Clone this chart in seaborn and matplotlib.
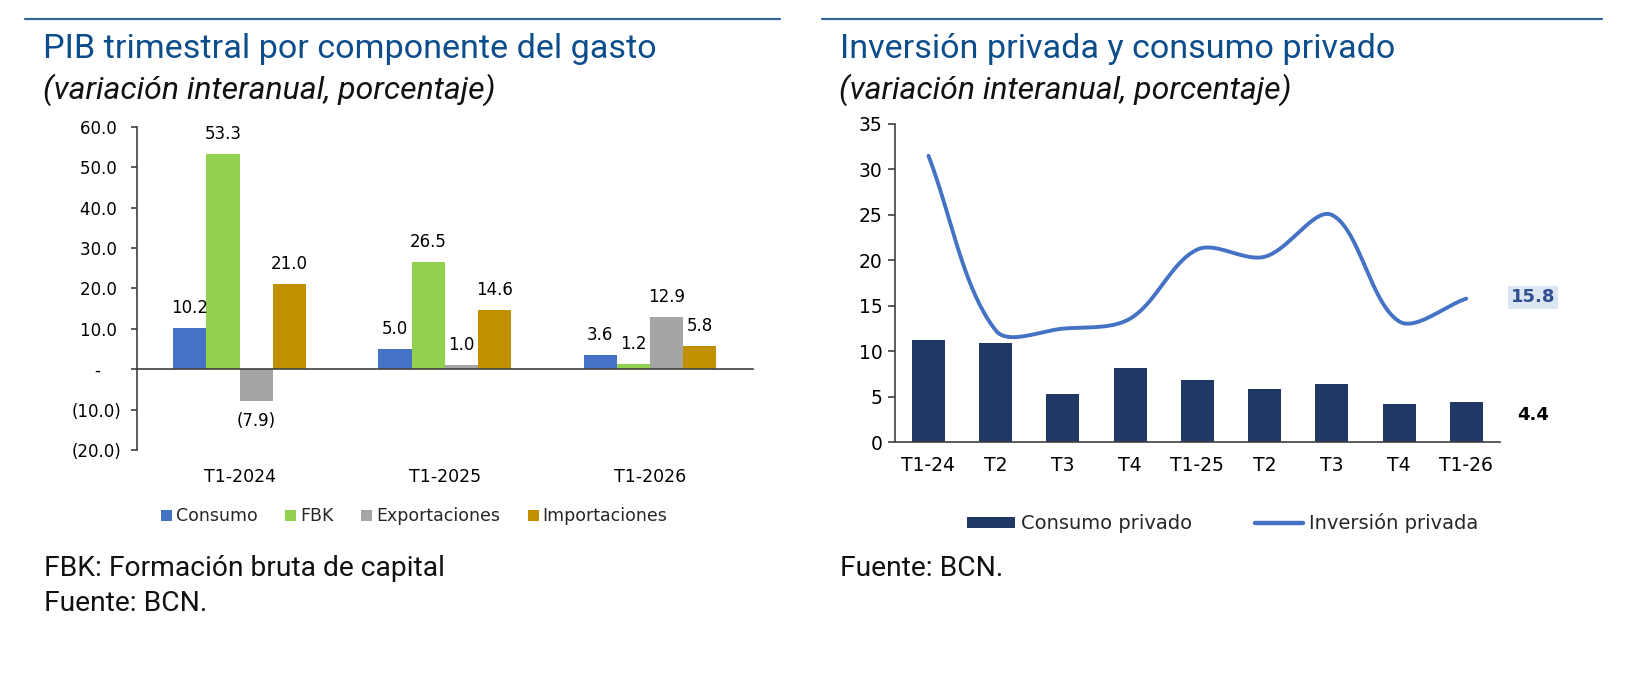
import numpy as np
import pandas as pd
import matplotlib
matplotlib.use("Agg")
import matplotlib.pyplot as plt
from matplotlib.lines import Line2D
from matplotlib.patches import Patch
import seaborn as sns

# --- datos: PIB por componente del gasto ---
trimestres_gasto = ["T1-2024", "T1-2025", "T1-2026"]
componentes = ["Consumo", "FBK", "Exportaciones", "Importaciones"]
consumo = [10.2, 5.0, 3.6]
fbk = [53.3, 26.5, 1.2]
exportaciones = [-7.9, 1.0, 12.9]
importaciones = [21.0, 14.6, 5.8]
colores_comp = ["#4472c4", "#92d050", "#a5a5a5", "#bf9000"]

# --- datos: inversion y consumo privado ---
trimestres = ["T1-24", "T2", "T3", "T4", "T1-25", "T2", "T3", "T4", "T1-26"]
consumo_privado = [11.2, 10.9, 5.3, 8.2, 6.8, 5.9, 6.4, 4.2, 4.4]
inversion_privada = [31.5, 12.3, 12.5, 13.6, 21.2, 20.4, 25.0, 13.3, 15.8]

AZUL_TITULO = "#0d4d8c"
AZUL_REGLA = "#35689a"
TITLE_FONT = "Roboto"


def fmt_num(v):
    if abs(v) < 1e-9:
        return "-    "
    if v < 0:
        return f"({-v:.1f})"
    return f"{v:.1f} "


def suavizar(xs, ys, yscale, n=40):
    # curva suavizada tipo Excel (bezier con tangentes ponderadas)
    p = np.column_stack([xs, np.asarray(ys) * yscale])
    ext = np.vstack([p[0], p, p[-1]])
    segs = []
    for i in range(len(p) - 1):
        p0, p1, p2, p3 = ext[i], ext[i + 1], ext[i + 2], ext[i + 3]
        d01 = np.linalg.norm(p1 - p0)
        d12 = np.linalg.norm(p2 - p1)
        d23 = np.linalg.norm(p3 - p2)
        t1 = p2 - p0
        t2 = p3 - p1
        w1 = d12 / (d01 + d12) if d01 + d12 > 0 else 0.5
        w2 = d12 / (d12 + d23) if d12 + d23 > 0 else 0.5
        c1 = p1 + t1 * w1 / 3
        c2 = p2 - t2 * w2 / 3
        t = np.linspace(0, 1, n)[:, None]
        seg = (1 - t) ** 3 * p1 + 3 * (1 - t) ** 2 * t * c1 + 3 * (1 - t) * t ** 2 * c2 + t ** 3 * p2
        segs.append(seg if i == 0 else seg[1:])
    out = np.vstack(segs)
    return out[:, 0], out[:, 1] / yscale


sns.set_theme(style="white")
plt.rcParams["font.family"] = ["DejaVu Sans"]
plt.rcParams["axes.edgecolor"] = "#404040"
plt.rcParams["xtick.color"] = "#404040"
plt.rcParams["ytick.color"] = "#404040"
plt.rcParams["xtick.labelcolor"] = "black"
plt.rcParams["ytick.labelcolor"] = "black"

fig = plt.figure(figsize=(16.3, 6.76), dpi=100)

# ================= grafico izquierdo =================
ax1 = fig.add_axes([0.0840, 0.3343, 0.3777, 0.4783])
df_gasto = pd.DataFrame({
    "trimestre": trimestres_gasto * 4,
    "componente": np.repeat(componentes, 3),
    "valor": consumo + fbk + exportaciones + importaciones,
})
sns.barplot(data=df_gasto, x="trimestre", y="valor", hue="componente",
            hue_order=componentes, order=trimestres_gasto, palette=colores_comp,
            width=0.647, gap=0, saturation=1, errorbar=None, linewidth=0,
            legend=False, ax=ax1)

series = [consumo, fbk, exportaciones, importaciones]
for cont, vals in zip(ax1.containers, series):
    ax1.bar_label(cont, labels=[fmt_num(v).strip() for v in vals], padding=8,
                  fontsize=12, color="black")

ax1.set_ylim(-20, 60)
ax1.set_xlim(-0.5, 2.5)
ax1.set_yticks(np.arange(-20, 61, 10))
ax1.set_yticklabels([fmt_num(v) for v in np.arange(-20, 61, 10)], fontsize=12)
ax1.spines["top"].set_visible(False)
ax1.spines["right"].set_visible(False)
ax1.spines["bottom"].set_position(("data", 0))
ax1.spines["left"].set_linewidth(1.2)
ax1.spines["bottom"].set_linewidth(1.2)
ax1.set_xticks(range(3))
ax1.set_xticklabels(trimestres_gasto, fontsize=12.5)
ax1.set_xticks(np.arange(-0.5, 3, 1), minor=True)
ax1.tick_params(axis="x", which="major", length=0, pad=71)
ax1.tick_params(axis="x", which="minor", length=5, width=1.2, direction="out")
ax1.tick_params(axis="y", length=4, width=1.2, direction="out", left=True, pad=7)
ax1.set_xlabel("")
ax1.set_ylabel("")

handles1 = [Patch(facecolor=c, edgecolor="none") for c in colores_comp]
fig.legend(handles1, componentes, loc="center", bbox_to_anchor=(0.254, 0.236),
           ncol=4, frameon=False, fontsize=12.5, handlelength=0.65, handleheight=0.65,
           handletextpad=0.2, columnspacing=1.6)

# ================= grafico derecho =================
ax2 = fig.add_axes([0.5490, 0.3457, 0.3712, 0.4709])
pos = np.arange(len(trimestres))
sns.barplot(x=pos, y=consumo_privado, color="#1f3864", saturation=1,
            width=0.49, errorbar=None, linewidth=0, ax=ax2)
yscale = 9.1 / 67.2
sx, sy = suavizar(pos, inversion_privada, yscale)
ax2.plot(sx, sy, color="#4472c4", lw=2.8, solid_capstyle="round")

ax2.set_ylim(0, 35)
ax2.set_xlim(-0.5, len(trimestres) - 0.5)
ax2.set_yticks(np.arange(0, 36, 5))
ax2.tick_params(axis="y", labelsize=13.5, length=5, width=1.2, direction="out", left=True, pad=4)
ax2.set_xticks(pos)
ax2.set_xticklabels(trimestres, fontsize=13.5)
ax2.set_xticks(np.arange(-0.5, len(trimestres), 1), minor=True)
ax2.tick_params(axis="x", which="major", length=0, pad=10)
ax2.tick_params(axis="x", which="minor", length=5, width=1.2, direction="out")
ax2.spines["top"].set_visible(False)
ax2.spines["right"].set_visible(False)
ax2.spines["left"].set_linewidth(1.2)
ax2.spines["bottom"].set_linewidth(1.2)
ax2.set_xlabel("")
ax2.set_ylabel("")

ult = len(trimestres) - 1
ax2.annotate(f"{inversion_privada[-1]:.1f}", xy=(ult, inversion_privada[-1]),
             xytext=(48, 1), textcoords="offset points", ha="center", va="center",
             fontsize=13, fontweight="bold", color="#2f4f8f",
             bbox=dict(boxstyle="square,pad=0.15", facecolor="#dce6f2", edgecolor="none"),
             annotation_clip=False)
ax2.annotate(f"{consumo_privado[-1]:.1f}", xy=(ult, consumo_privado[-1]),
             xytext=(48, -9), textcoords="offset points", ha="center", va="center",
             fontsize=13, fontweight="bold", color="black", annotation_clip=False)

handles2 = [Patch(facecolor="#1f3864", edgecolor="none"),
            Line2D([], [], color="#4472c4", lw=3.2)]
fig.legend(handles2, ["Consumo privado", "Inversión privada"], loc="center",
           bbox_to_anchor=(0.750, 0.226), ncol=2, frameon=False, fontsize=14,
           handlelength=2.5, handleheight=0.5, handletextpad=0.3, columnspacing=3.2)

# ================= titulos, reglas y notas =================
fig.add_artist(Line2D([24.5 / 1630, 780 / 1630], [1 - 19.3 / 676] * 2,
                      color=AZUL_REGLA, lw=1.6, transform=fig.transFigure))
fig.add_artist(Line2D([822 / 1630, 1602 / 1630], [1 - 19.3 / 676] * 2,
                      color=AZUL_REGLA, lw=1.6, transform=fig.transFigure))

fig.text(43 / 1630, 1 - 58 / 676, "PIB trimestral por componente del gasto",
         family=TITLE_FONT, fontsize=24.6, color=AZUL_TITULO, va="baseline")
fig.text(840 / 1630, 1 - 58 / 676, "Inversión privada y consumo privado",
         family=TITLE_FONT, fontsize=24.6, color=AZUL_TITULO, va="baseline")
fig.text(43 / 1630, 1 - 99 / 676, "(variación interanual, porcentaje)",
         family=TITLE_FONT, fontsize=23, style="italic", color="#111111", va="baseline")
fig.text(839 / 1630, 1 - 99 / 676, "(variación interanual, porcentaje)",
         family=TITLE_FONT, fontsize=23, style="italic", color="#111111", va="baseline")

fig.text(44.5 / 1630, 1 - 576 / 676, "FBK: Formación bruta de capital",
         family=TITLE_FONT, fontsize=20.3, color="#111111", va="baseline")
fig.text(44.5 / 1630, 1 - 611 / 676, "Fuente: BCN.",
         family=TITLE_FONT, fontsize=20.3, color="#111111", va="baseline")
fig.text(840 / 1630, 1 - 576 / 676, "Fuente: BCN.",
         family=TITLE_FONT, fontsize=20.3, color="#111111", va="baseline")

fig.savefig("out.png", dpi=100, facecolor="white")
plt.close(fig)
